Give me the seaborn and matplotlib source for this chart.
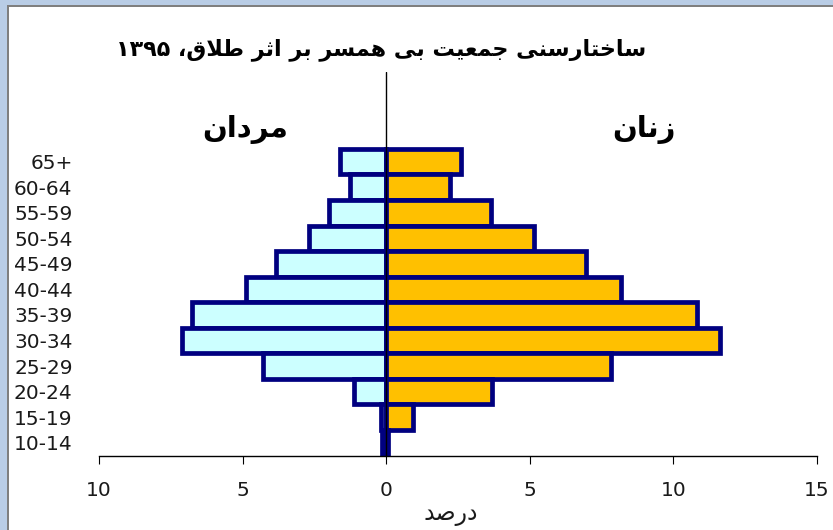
import matplotlib
matplotlib.use("Agg")
import matplotlib.pyplot as plt
import pandas as pd
import seaborn as sns
from matplotlib.patches import Rectangle

# ---- data -------------------------------------------------------------
age_groups = ["65+", "60-64", "55-59", "50-54", "45-49", "40-44",
              "35-39", "30-34", "25-29", "20-24", "15-19", "10-14"]
men_pct = [1.60, 1.27, 1.99, 2.69, 3.85, 4.87, 6.75, 7.10, 4.29, 1.13, 0.19, 0.13]
women_pct = [2.61, 2.21, 3.66, 5.14, 6.94, 8.17, 10.81, 11.62, 7.82, 3.69, 0.92, 0.06]
x_ticks = [-10, -5, 0, 5, 10, 15]
x_tick_labels = ["10", "5", "0", "5", "10", "15"]

title_text = "ساختارسنی جمعیت بی همسر بر اثر طلاق، ۱۳۹۵"
men_label = "مردان"
women_label = "زنان"
x_label = "درصد"

# ---- minimal Persian shaping (matplotlib has no complex text layout) ---
# letter: (isolated, final, initial, medial); right-joining letters have no initial/medial
FORMS = {
    "\u0627": ("\uFE8D", "\uFE8E", None, None),          # alef
    "\u062F": ("\uFEA9", "\uFEAA", None, None),          # dal
    "\u0631": ("\uFEAD", "\uFEAE", None, None),          # reh
    "\u0632": ("\uFEAF", "\uFEB0", None, None),          # zain
    "\u0628": ("\uFE8F", "\uFE90", "\uFE91", "\uFE92"),  # beh
    "\u062A": ("\uFE95", "\uFE96", "\uFE97", "\uFE98"),  # teh
    "\u062B": ("\uFE99", "\uFE9A", "\uFE9B", "\uFE9C"),  # theh
    "\u062C": ("\uFE9D", "\uFE9E", "\uFE9F", "\uFEA0"),  # jeem
    "\u062E": ("\uFEA5", "\uFEA6", "\uFEA7", "\uFEA8"),  # khah
    "\u0633": ("\uFEB1", "\uFEB2", "\uFEB3", "\uFEB4"),  # seen
    "\u0635": ("\uFEB9", "\uFEBA", "\uFEBB", "\uFEBC"),  # sad
    "\u0637": ("\uFEC1", "\uFEC2", "\uFEC3", "\uFEC4"),  # tah
    "\u0639": ("\uFEC9", "\uFECA", "\uFECB", "\uFECC"),  # ain
    "\u0642": ("\uFED5", "\uFED6", "\uFED7", "\uFED8"),  # qaf
    "\u0644": ("\uFEDD", "\uFEDE", "\uFEDF", "\uFEE0"),  # lam
    "\u0645": ("\uFEE1", "\uFEE2", "\uFEE3", "\uFEE4"),  # meem
    "\u0646": ("\uFEE5", "\uFEE6", "\uFEE7", "\uFEE8"),  # noon
    "\u0647": ("\uFEE9", "\uFEEA", "\uFEEB", "\uFEEC"),  # heh
    "\u06CC": ("\uFEEF", "\uFEF0", "\uFEF3", "\uFEF4"),  # farsi yeh
}
PERSIAN_DIGITS = set("۰۱۲۳۴۵۶۷۸۹")


def shape_rtl(text):
    out = []
    n = len(text)
    prev_joins = False
    i = 0
    while i < n:
        c = text[i]
        if c == "\u0644" and i + 1 < n and text[i + 1] == "\u0627":
            out.append("\uFEFC" if prev_joins else "\uFEFB")  # lam-alef ligature
            prev_joins = False
            i += 2
            continue
        if c in FORMS:
            iso, fin, ini, med = FORMS[c]
            nxt = text[i + 1] if i + 1 < n else None
            to_next = ini is not None and nxt in FORMS
            if prev_joins and to_next:
                g = med
            elif prev_joins:
                g = fin
            elif to_next:
                g = ini
            else:
                g = iso
            out.append(g)
            prev_joins = ini is not None
        else:
            out.append(c)
            prev_joins = False
        i += 1
    vis = out[::-1]
    # numbers keep left-to-right order inside right-to-left text
    res, run = [], []
    for g in vis:
        if g in PERSIAN_DIGITS:
            run.append(g)
        else:
            res.extend(run[::-1])
            run = []
            res.append(g)
    res.extend(run[::-1])
    return "".join(res)


# ---- figure -----------------------------------------------------------
sns.set_theme(style="white")
plt.rcParams["font.family"] = ["DejaVu Sans"]

W, H = 833, 530
fig = plt.figure(figsize=(W / 100, H / 100), dpi=100)
fig.patch.set_facecolor("white")

# window-style frame along the top and left edges
frame_blue = "#B9CDE6"
fig.patches.append(Rectangle((0, 1 - 5 / H), 1, 5 / H, transform=fig.transFigure,
                             facecolor=frame_blue, edgecolor="none", zorder=0))
fig.patches.append(Rectangle((0, 0), 7 / W, 1, transform=fig.transFigure,
                             facecolor=frame_blue, edgecolor="none", zorder=0))
fig.patches.append(Rectangle((7 / W, 1 - 6.5 / H), 1, 1.5 / H, transform=fig.transFigure,
                             facecolor="#7F7F7F", edgecolor="none", zorder=1))
fig.patches.append(Rectangle((7 / W, 0), 1.5 / W, 1 - 5 / H, transform=fig.transFigure,
                             facecolor="#7F7F7F", edgecolor="none", zorder=1))

ax = fig.add_axes([99 / W, 74 / H, 718 / W, 384 / H])

df = pd.DataFrame({
    "age": age_groups * 2,
    "pct": [-v for v in men_pct] + list(women_pct),
    "sex": ["men"] * len(age_groups) + ["women"] * len(age_groups),
})

sns.barplot(data=df, y="age", x="pct", hue="sex", order=age_groups,
            hue_order=["men", "women"],
            palette={"men": "#CCFFFF", "women": "#FFC000"},
            dodge=False, width=1.0, saturation=1, errorbar=None,
            edgecolor="#000080", linewidth=3.4, legend=False,
            orient="h", ax=ax)

ax.set_xlim(-10, 15)
ax.set_ylim(11.52, -3.51)
ax.set_xticks(x_ticks)
ax.set_xticklabels(x_tick_labels)
ax.set_xlabel("")
ax.set_ylabel("")
ax.grid(False)
ax.set_facecolor("none")

for side in ("top", "right", "left"):
    ax.spines[side].set_visible(False)
ax.spines["bottom"].set_color("black")
ax.spines["bottom"].set_linewidth(1.0)

ax.axvline(0, color="black", lw=1.0, zorder=6)

ax.tick_params(axis="x", direction="out", length=6, width=0.8, color="black",
               labelsize=14.5, labelcolor="#1a1a1a", pad=12, bottom=True)
ax.tick_params(axis="y", length=0, labelsize=14.5, labelcolor="#1a1a1a", pad=19)

fig.text(381 / W, 1 - 50 / H, shape_rtl(title_text), ha="center", va="center",
         fontsize=16, fontweight="bold", color="black")
fig.text(245 / W, 1 - 129 / H, shape_rtl(men_label), ha="center", va="center",
         fontsize=21, fontweight="bold", color="black")
fig.text(644 / W, 1 - 130 / H, shape_rtl(women_label), ha="center", va="center",
         fontsize=21, fontweight="bold", color="black")
fig.text(451 / W, 1 - 514 / H, shape_rtl(x_label), ha="center", va="center",
         fontsize=17, color="#1a1a1a")

fig.savefig("out.png", dpi=100)
